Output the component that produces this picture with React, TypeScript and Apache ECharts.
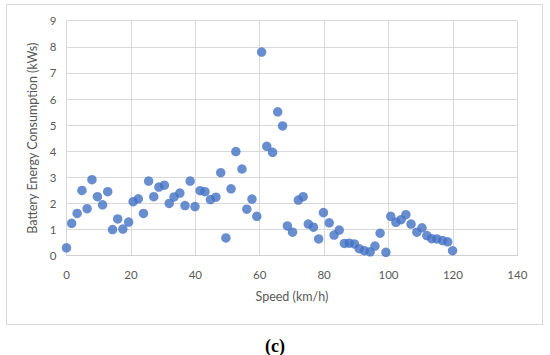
import React, { useEffect, useRef } from "react";
import * as echarts from "echarts";

const speeds = [
  0, 1.6, 3.3, 4.8, 6.4, 7.9, 9.6, 11.2, 12.8, 14.3, 15.9, 17.5, 19.3, 20.7, 22.3, 23.9,
  25.5, 27.1, 28.7, 30.4, 31.9, 33.4, 35.2, 36.8, 38.4, 39.9, 41.5, 43.0, 44.7, 46.4, 47.9,
  49.5, 51.1, 52.6, 54.5, 56.0, 57.6, 59.1, 60.6, 62.2, 64.0, 65.6, 67.1, 68.6, 70.2, 72.0,
  73.5, 75.1, 76.7, 78.3, 79.8, 81.6, 83.1, 84.7, 86.3, 87.8, 89.4, 90.9, 92.5, 94.3, 95.8,
  97.4, 99.2, 100.7, 102.3, 103.9, 105.4, 107.0, 108.8, 110.4, 111.9, 113.4, 115.0, 116.8,
  118.4, 119.9,
];
const consumption = [
  0.30, 1.24, 1.62, 2.50, 1.80, 2.91, 2.26, 1.95, 2.45, 1.00, 1.41, 1.02, 1.29, 2.07, 2.18, 1.62,
  2.86, 2.26, 2.63, 2.70, 2.00, 2.25, 2.40, 1.92, 2.86, 1.88, 2.49, 2.45, 2.15, 2.24, 3.18,
  0.68, 2.56, 3.99, 3.32, 1.78, 2.17, 1.51, 7.80, 4.19, 3.96, 5.51, 4.97, 1.14, 0.90, 2.13,
  2.26, 1.21, 1.09, 0.64, 1.65, 1.26, 0.79, 0.98, 0.47, 0.48, 0.45, 0.27, 0.19, 0.15, 0.37,
  0.86, 0.13, 1.51, 1.28, 1.38, 1.57, 1.21, 0.90, 1.07, 0.77, 0.65, 0.64, 0.58,
  0.53, 0.19,
];

const xTitle = "Speed (km/h)";
const yTitle = "Battery Energy Consumption (kWs)";
const caption = "(c)";

export default function App() {
  const ref = useRef<HTMLDivElement>(null);
  useEffect(() => {
    if (!ref.current) return;
    const chart = echarts.init(ref.current, null, { renderer: "svg" });
    const data = speeds.map((s, i) => [s, consumption[i]]);
    const font = "Lato, 'Open Sans', sans-serif";
    chart.setOption({
      animation: false,
      backgroundColor: "#ffffff",
      grid: { left: 66.5, top: 20.7, width: 450.8, height: 235 },
      xAxis: {
        type: "value",
        min: 0,
        max: 140,
        interval: 20,
        name: xTitle,
        nameLocation: "middle",
        nameGap: 34,
        nameTextStyle: { color: "#595959", fontSize: 12.5, fontFamily: font },
        axisLine: { show: true, lineStyle: { color: "#D0D0D0", width: 1 } },
        axisTick: { show: false },
        axisLabel: { color: "#595959", fontSize: 11.5, fontFamily: font, margin: 13 },
        splitLine: { show: true, lineStyle: { color: "#D9D9D9", width: 1 } },
      },
      yAxis: {
        type: "value",
        min: 0,
        max: 9,
        interval: 1,
        name: yTitle,
        nameLocation: "middle",
        nameGap: 26,
        nameTextStyle: { color: "#595959", fontSize: 12.5, fontFamily: font },
        axisLine: { show: false },
        axisTick: { show: false },
        axisLabel: { color: "#595959", fontSize: 11.5, fontFamily: font, margin: 10 },
        splitLine: { show: true, lineStyle: { color: "#D9D9D9", width: 1 } },
      },
      series: [
        {
          type: "scatter",
          data,
          symbol: "circle",
          symbolSize: 9.5,
          itemStyle: { color: "#4472C4" },
        },
      ],
      graphic: [
        {
          type: "rect",
          shape: { x: 6.5, y: 4.5, width: 536, height: 320 },
          style: { fill: "none", stroke: "#D9D9D9", lineWidth: 1 },
          silent: true,
        },
        {
          type: "text",
          x: 275,
          y: 346,
          style: {
            text: caption,
            fill: "#000000",
            font: "bold 18px 'Liberation Serif', 'DejaVu Serif', serif",
            textAlign: "center",
            textVerticalAlign: "middle",
          },
        },
      ],
    });
    return () => chart.dispose();
  }, []);
  return (
    <div
      ref={ref}
      style={{ position: "absolute", left: 0, top: 0, width: 550, height: 355 }}
    />
  );
}
